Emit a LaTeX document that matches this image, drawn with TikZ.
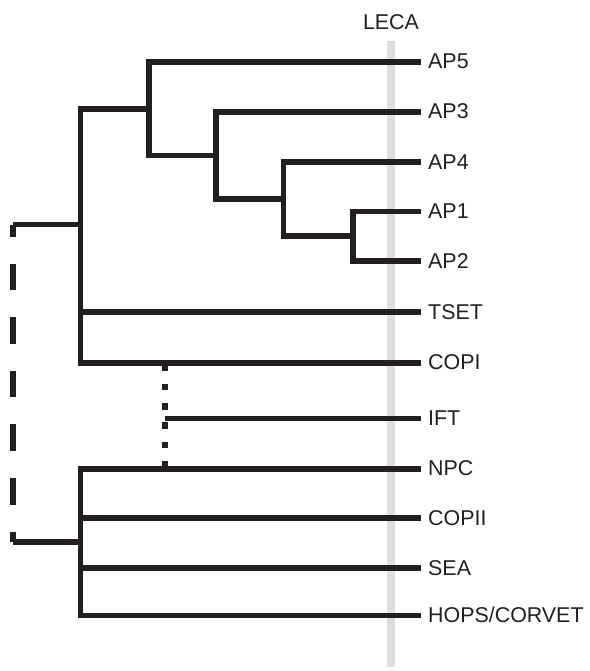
\documentclass[tikz,border=0pt]{standalone}
\usepackage{fontspec}
\setmainfont{Liberation Sans}
\definecolor{ink}{RGB}{35,31,32}
\definecolor{lecagray}{RGB}{220,221,223}
\begin{document}
\begin{tikzpicture}[x=1pt,y=-1pt,
  branch/.style={draw=ink,line width=5.6pt,line join=miter,line cap=butt},
  lbl/.style={anchor=west,inner sep=0pt,text=ink,font=\fontsize{21.4}{21.4}\selectfont,text height=15pt,text depth=0pt}]
\useasboundingbox (0,0) rectangle (589,671);
% LECA bar
\fill[lecagray] (387,41) rectangle (395,667);
\node[lbl,anchor=center] (leca) at (391,22.5) {LECA};
% leaf tips
\coordinate (tAP5) at (421,62);
\coordinate (tAP3) at (421,112);
\coordinate (tAP4) at (421,162);
\coordinate (tAP1) at (421,211.5);
\coordinate (tAP2) at (421,261);
\coordinate (tTSET) at (421,312);
\coordinate (tCOPI) at (421,363);
\coordinate (tIFT) at (421,418.3);
\coordinate (tNPC) at (421,468.7);
\coordinate (tCOPII) at (421,518);
\coordinate (tSEA) at (421,568);
\coordinate (tHOPS) at (421,615.5);
% labels
\node[lbl] (AP5) at (428,61.5) {AP5};
\node[lbl] (AP3) at (428,111.5) {AP3};
\node[lbl] (AP4) at (428,161.5) {AP4};
\node[lbl] (AP1) at (428,211) {AP1};
\node[lbl] (AP2) at (428,260.5) {AP2};
\node[lbl] (TSET) at (428,311.5) {TSET};
\node[lbl] (COPI) at (428,362) {COPI};
\node[lbl] (IFT) at (428,418) {IFT};
\node[lbl] (NPC) at (428,468) {NPC};
\node[lbl] (COPII) at (428,517.5) {COPII};
\node[lbl] (SEA) at (428,567.5) {SEA};
\node[lbl] (HOPS) at (428,615) {HOPS/CORVET};
% internal nodes
\coordinate (n12) at (353,236.25);
\coordinate (n4) at (283.5,199.1);
\coordinate (n3) at (216,155.6);
\coordinate (n5) at (149,108.8);
\coordinate (top) at (80.5,224.5);
\coordinate (bot) at (80.5,542);
\coordinate (root) at (13,383);
\coordinate (dtop) at (165.3,364.3);
\coordinate (dbot) at (165.3,468.7);
\coordinate (iftj) at (165.3,418.3);
% tree
\draw[branch] (tAP1) -| (n12);
\draw[branch] (tAP2) -| (n12);
\draw[branch] (tAP4) -| (n4);
\draw[branch] (n12) -| (n4);
\draw[branch] (tAP3) -| (n3);
\draw[branch] (n4) -| (n3);
\draw[branch] (tAP5) -| (n5);
\draw[branch] (n3) -| (n5);
\draw[branch] (n5) -| (top);
\draw[branch] (tCOPI) -| (top);
\draw[branch] (tTSET) -- (tTSET -| top);
\draw[branch] (tNPC) -| (bot);
\draw[branch] (tHOPS) -| (bot);
\draw[branch] (tCOPII) -- (tCOPII -| bot);
\draw[branch] (tSEA) -- (tSEA -| bot);
% root (dashed)
\draw[branch] (top) -- (top -| root);
\draw[branch] (bot) -- (bot -| root);
\draw[branch,line width=6pt,dash pattern=on 26.6pt off 27pt,dash phase=14.6pt] (top -| root) -- (bot -| root);
% IFT (dotted attachment)
\draw[branch,line width=6pt,dash pattern=on 6.7pt off 12.6pt] (dtop) -- (dbot);
\draw[branch] (tIFT) -- (iftj);
\end{tikzpicture}
\end{document}
